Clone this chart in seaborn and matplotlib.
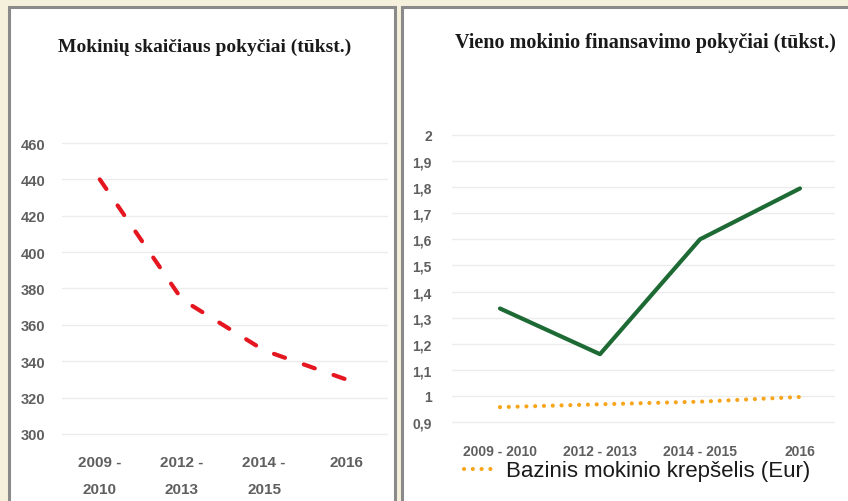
import numpy as np
import pandas as pd
import seaborn as sns
import matplotlib.pyplot as plt
from matplotlib.patches import Rectangle
from matplotlib.lines import Line2D

periods_left = ['2009 -\n2010', '2012 -\n2013', '2014 -\n2015', '2016']
students = [440, 374, 346, 330]

periods_right = ['2009 - 2010', '2012 - 2013', '2014 - 2015', '2016']
funding = [1.335, 1.16, 1.60, 1.795]
basket = [0.957, 0.968, 0.978, 0.996]

W, H = 848, 502
sns.set_theme(style='white')
plt.rcParams['font.family'] = ['Liberation Sans', 'DejaVu Sans']

fig = plt.figure(figsize=(W / 100, H / 100), dpi=100)
fig.patch.set_facecolor('#f4f0db')


def px_axes(x0, y0, x1, y1):
    # pixel box (top-left origin) -> figure axes
    return fig.add_axes([x0 / W, 1 - y1 / H, (x1 - x0) / W, (y1 - y0) / H])


def panel(x0, y0, x1, y1):
    r = Rectangle((x0 / W, 1 - y1 / H), (x1 - x0) / W, (y1 - y0) / H,
                  transform=fig.transFigure, facecolor='white',
                  edgecolor='#8a8a8a', linewidth=2.2, zorder=-10)
    fig.patches.append(r)


panel(9, 8, 395, 520)
panel(402, 8, 870, 520)

grey = '#5f5f5f'
dots = (0, (0.01, 2.1))

# left chart
ax1 = px_axes(62, 130, 388, 450)
df1 = pd.DataFrame({'period': periods_left, 'students': students})
sns.lineplot(data=df1, x='period', y='students', sort=False, ax=ax1,
             color='#e5161f', linewidth=3)
ax1.lines[0].set_linestyle((0, (2.8, 4.78)))
ax1.lines[0].set_dash_capstyle('round')
ax1.set_ylim(291.75, 467.7)
ax1.set_xlim(-0.46, 3.51)
ax1.set_yticks(range(300, 461, 20))
ax1.set_xlabel('')
ax1.set_ylabel('')
ax1.patch.set_alpha(0)
ax1.grid(axis='y', color='#ececec', linewidth=1)
sns.despine(ax=ax1, left=True, bottom=True)
ax1.tick_params(axis='both', length=0, colors=grey, labelsize=10.5)
ax1.tick_params(axis='x', labelsize=11, pad=4)
ax1.tick_params(axis='y', pad=12)
for t in ax1.get_xticklabels():
    t.set_linespacing(2.2)
    t.set_fontweight('bold')
for t in ax1.get_yticklabels():
    t.set_fontweight('bold')
fig.text(205 / W, 1 - 47 / H, 'Mokinių skaičiaus pokyčiai (tūkst.)',
         ha='center', va='center', fontsize=14, fontweight='bold',
         family='Liberation Serif', color='#1a1a1a')

# right chart
ax2 = px_axes(452, 120, 835, 440)
df2 = pd.DataFrame({'period': periods_right, 'funding': funding, 'basket': basket})
sns.lineplot(data=df2, x='period', y='funding', sort=False, ax=ax2,
             color='#1d6a34', linewidth=3)
sns.lineplot(data=df2, x='period', y='basket', sort=False, ax=ax2,
             color='#f7a51b', linewidth=3)
ax2.lines[1].set_linestyle(dots)
ax2.lines[1].set_dash_capstyle('round')
ax2.set_ylim(0.835, 2.061)
ax2.set_xlim(-0.48, 3.35)
yt = np.round(np.arange(0.9, 2.01, 0.1), 1)
ax2.set_yticks(yt)
ax2.set_yticklabels([('%g' % v).replace('.', ',') for v in yt])
ax2.set_xlabel('')
ax2.set_ylabel('')
ax2.patch.set_alpha(0)
ax2.grid(axis='y', color='#ececec', linewidth=1)
sns.despine(ax=ax2, left=True, bottom=True)
ax2.tick_params(axis='both', length=0, colors=grey, labelsize=10)
ax2.tick_params(axis='y', pad=14.5)
for t in ax2.get_xticklabels() + ax2.get_yticklabels():
    t.set_fontweight('bold')
fig.text(645 / W, 1 - 43 / H, 'Vieno mokinio finansavimo pokyčiai (tūkst.)',
         ha='center', va='center', fontsize=14.5, fontweight='bold',
         family='Liberation Serif', color='#1a1a1a')

handle = Line2D([], [], color='#f7a51b', linewidth=3,
                linestyle=dots, dash_capstyle='round')
fig.legend([handle], ['Bazinis mokinio krepšelis (Eur)'],
           loc='center', bbox_to_anchor=(637 / W, 1 - 472 / H),
           frameon=False, fontsize=16, handlelength=1.6, handletextpad=0.3,
           labelcolor='#1a1a1a')

fig.savefig('out.png', dpi=100, facecolor=fig.get_facecolor())
